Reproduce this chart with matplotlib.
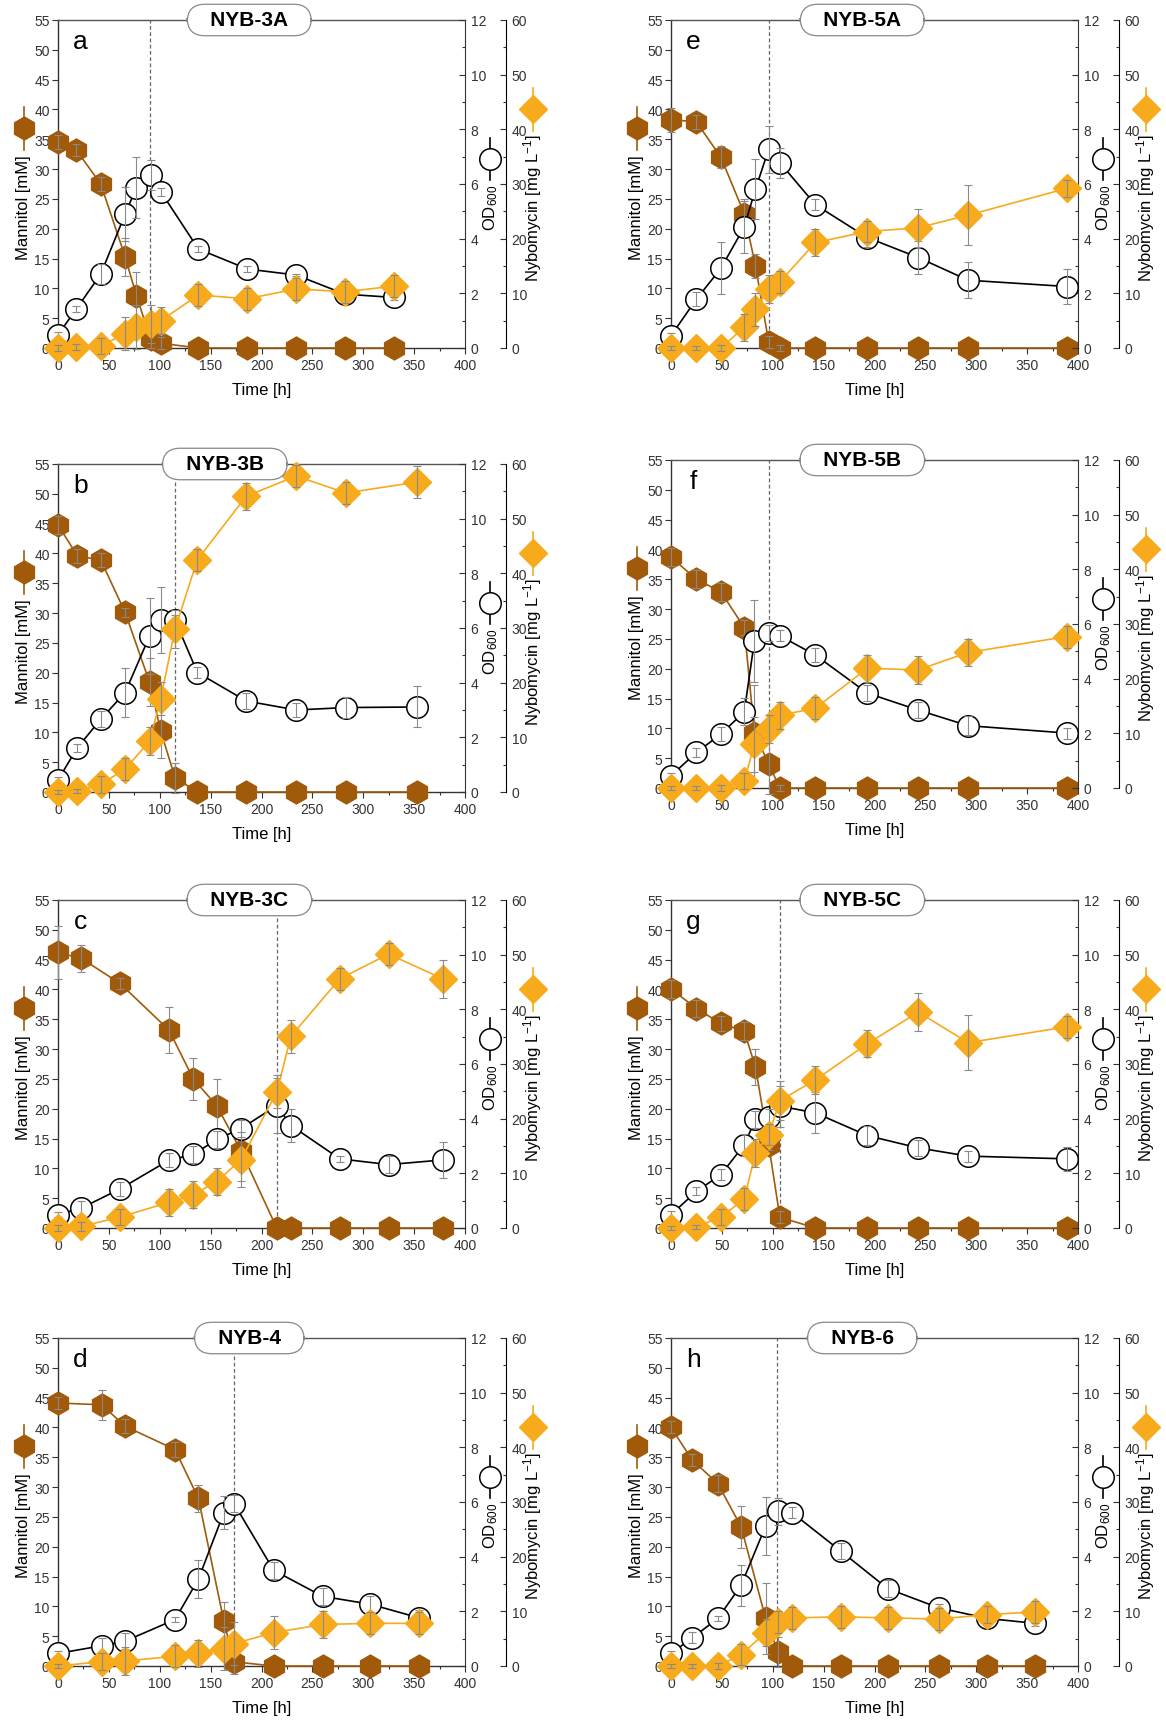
import matplotlib

matplotlib.use("Agg")
import matplotlib.pyplot as plt
import numpy as np
from matplotlib.ticker import MultipleLocator

plt.rcParams["font.family"] = ["Liberation Sans", "DejaVu Sans"]
plt.rcParams["mathtext.default"] = "regular"

# ---- data (time in h, mannitol in mM, OD600, nybomycin in mg/L)
T_A = [0, 18, 42, 66, 77, 91, 101, 138, 186, 234, 282, 330]
MAN_A = [34.5, 33.2, 27.5, 15.3, 8.8, 1.5, 0.8, 0, 0, 0, 0, 0]
MAN_A_ERR = [1.2, 1.0, 1.2, 3.2, 4.0, 1.5, 1.0, 0, 0, 0, 0, 0]
OD_A = [0.48, 1.43, 2.70, 4.90, 5.87, 6.32, 5.72, 3.62, 2.89, 2.67, 1.97, 1.85]
OD_A_ERR = [0.1, 0.12, 0.36, 1.0, 1.1, 0.55, 0.15, 0.12, 0.12, 0.05, 0.05, 0.1]
NYB_A = [0, 0.2, 0.4, 2.6, 3.8, 4.4, 5.0, 9.7, 9.0, 10.8, 10.3, 11.3]
NYB_A_ERR = [0.5, 0.5, 1.5, 3.0, 4.0, 3.5, 2.5, 2.0, 2.0, 2.0, 2.0, 2.0]

T_B = [0, 19, 42, 66, 90, 101, 115, 137, 185, 234, 283, 353]
MAN_B = [44.8, 39.6, 38.9, 30.1, 18.4, 10.2, 2.4, 0, 0, 0, 0, 0]
MAN_B_ERR = [1.5, 1.2, 1.2, 0.8, 4.0, 4.5, 2.5, 0, 0, 0, 0, 0]
OD_B = [0.44, 1.62, 2.66, 3.64, 5.71, 6.29, 6.29, 4.37, 3.33, 3.00, 3.09, 3.11]
OD_B_ERR = [0.1, 0.15, 0.3, 0.9, 1.4, 1.2, 0.2, 0.2, 0.3, 0.25, 0.4, 0.75]
NYB_B = [0, 0.2, 1.4, 4.2, 9.3, 17.1, 29.8, 42.5, 54.1, 57.8, 54.7, 56.7]
NYB_B_ERR = [0.3, 0.3, 1.5, 2.0, 2.5, 3.0, 3.5, 2.0, 2.5, 2.0, 2.0, 3.0]

T_C = [0, 23, 61, 109, 133, 156, 180, 215, 229, 277, 325, 378]
MAN_C = [46.2, 45.2, 41.0, 33.2, 25.0, 20.5, 12.9, 0, 0, 0, 0, 0]
MAN_C_ERR = [4.5, 2.3, 1.0, 3.8, 3.5, 4.5, 5.0, 0, 0, 0, 0, 0]
OD_C = [0.49, 0.73, 1.43, 2.48, 2.69, 3.24, 3.64, 4.48, 3.75, 2.53, 2.32, 2.49]
OD_C_ERR = [0.1, 0.25, 0.25, 0.25, 0.3, 0.3, 0.3, 1.0, 0.6, 0.1, 0.3, 0.65]
NYB_C = [0, 0.3, 2.0, 4.7, 6.1, 8.5, 12.5, 24.9, 35.1, 45.6, 50.1, 45.6]
NYB_C_ERR = [0.5, 0.8, 1.5, 2.5, 2.5, 2.5, 5.0, 3.0, 3.0, 2.0, 2.0, 3.5]

T_D = [0, 43, 66, 115, 138, 163, 173, 212, 260, 307, 355]
MAN_D = [44.1, 43.8, 40.2, 36.3, 28.1, 7.5, 0.7, 0, 0, 0, 0]
MAN_D_ERR = [1.0, 2.5, 1.2, 1.2, 2.3, 3.2, 2.0, 0, 0, 0, 0]
OD_D = [0.46, 0.74, 0.91, 1.70, 3.18, 5.61, 5.94, 3.50, 2.55, 2.26, 1.76]
OD_D_ERR = [0.1, 0.3, 0.3, 0.1, 0.7, 0.6, 0.3, 0.3, 0.3, 0.3, 0.3]
NYB_D = [0, 0.8, 0.9, 1.8, 2.3, 3.2, 4.1, 6.1, 7.6, 7.8, 7.8]
NYB_D_ERR = [0.3, 1.5, 2.5, 2.0, 2.5, 4.0, 4.0, 3.0, 2.5, 2.0, 2.0]

T_E = [0, 25, 49, 72, 83, 96, 107, 142, 193, 243, 292, 389]
MAN_E = [38.3, 37.9, 32.0, 22.5, 13.8, 1.0, 0, 0, 0, 0, 0, 0]
MAN_E_ERR = [2.0, 1.2, 1.8, 2.5, 2.0, 1.0, 0.5, 0, 0, 0, 0, 0]
OD_E = [0.45, 1.79, 2.91, 4.43, 5.81, 7.27, 6.78, 5.24, 4.04, 3.31, 2.48, 2.25]
OD_E_ERR = [0.1, 0.25, 0.95, 0.95, 1.1, 0.85, 0.55, 0.2, 0.35, 0.6, 0.65, 0.65]
NYB_E = [0, 0, 0, 3.8, 7.1, 10.8, 12.1, 19.3, 21.3, 22.0, 24.3, 29.2]
NYB_E_ERR = [0.3, 0.3, 0.5, 2.5, 3.0, 2.5, 2.0, 2.5, 2.0, 3.5, 5.5, 1.5]

T_F = [0, 25, 49, 72, 82, 96, 107, 142, 193, 243, 292, 389]
MAN_F = [38.7, 35.0, 32.9, 26.9, 9.3, 4.0, 0, 0, 0, 0, 0, 0]
MAN_F_ERR = [1.5, 1.5, 1.5, 1.2, 8.0, 5.0, 0.5, 0, 0, 0, 0, 0]
OD_F = [0.45, 1.30, 1.97, 2.79, 5.38, 5.66, 5.57, 4.86, 3.47, 2.85, 2.28, 2.01]
OD_F_ERR = [0.1, 0.15, 0.25, 0.5, 1.5, 0.3, 0.2, 0.25, 0.3, 0.3, 0.35, 0.2]
NYB_F = [0, 0, 0, 1.3, 8.0, 10.8, 13.3, 14.6, 21.9, 21.6, 24.8, 27.7]
NYB_F_ERR = [0.3, 0.3, 0.5, 1.5, 5.0, 2.5, 2.5, 2.0, 2.5, 2.5, 2.5, 2.0]

T_G = [0, 25, 49, 72, 83, 96, 107, 142, 193, 243, 292, 389]
MAN_G = [40.1, 36.8, 34.3, 33.0, 27.0, 14.0, 1.8, 0, 0, 0, 0, 0]
MAN_G_ERR = [1.5, 1.5, 1.2, 1.5, 3.0, 1.0, 1.0, 0, 0, 0, 0, 0]
OD_G = [0.49, 1.34, 1.95, 3.05, 3.97, 4.07, 4.46, 4.21, 3.38, 2.93, 2.63, 2.53]
OD_G_ERR = [0.15, 0.15, 0.2, 0.4, 0.3, 0.3, 0.75, 0.75, 0.35, 0.3, 0.2, 0.45]
NYB_G = [0, 0.2, 2.0, 5.3, 13.7, 17.1, 23.3, 27.1, 33.7, 39.5, 33.9, 36.8]
NYB_G_ERR = [0.3, 0.3, 1.5, 2.0, 2.5, 2.0, 3.5, 2.5, 2.5, 3.5, 5.0, 2.0]

T_H = [0, 21, 46, 69, 93, 105, 119, 167, 213, 263, 311, 358]
MAN_H = [40.0, 34.5, 30.6, 23.3, 8.0, 2.4, 0, 0, 0, 0, 0, 0]
MAN_H_ERR = [1.0, 1.0, 1.5, 3.5, 6.0, 2.5, 0, 0, 0, 0, 0, 0]
OD_H = [0.46, 1.03, 1.74, 2.96, 5.12, 5.66, 5.61, 4.20, 2.83, 2.13, 1.74, 1.56]
OD_H_ERR = [0.1, 0.2, 0.1, 0.75, 1.05, 0.5, 0.2, 0.3, 0.3, 0.15, 0.1, 0.1]
NYB_H = [0, 0, 0, 2.1, 6.1, 8.1, 8.8, 9.0, 8.8, 8.6, 9.4, 9.9]
NYB_H_ERR = [0.3, 0.3, 0.5, 2.0, 2.5, 2.0, 2.0, 2.0, 2.0, 2.0, 1.5, 2.0]

TITLES = ["NYB-3A", "NYB-3B", "NYB-3C", "NYB-4", "NYB-5A", "NYB-5B", "NYB-5C", "NYB-6"]
LETTERS = ["a", "b", "c", "d", "e", "f", "g", "h"]
MARK_TIME = [90, 115, 215, 173, 96, 96, 107, 104]  # dashed vertical line

SERIES = [
    (T_A, MAN_A, MAN_A_ERR, OD_A, OD_A_ERR, NYB_A, NYB_A_ERR),
    (T_B, MAN_B, MAN_B_ERR, OD_B, OD_B_ERR, NYB_B, NYB_B_ERR),
    (T_C, MAN_C, MAN_C_ERR, OD_C, OD_C_ERR, NYB_C, NYB_C_ERR),
    (T_D, MAN_D, MAN_D_ERR, OD_D, OD_D_ERR, NYB_D, NYB_D_ERR),
    (T_E, MAN_E, MAN_E_ERR, OD_E, OD_E_ERR, NYB_E, NYB_E_ERR),
    (T_F, MAN_F, MAN_F_ERR, OD_F, OD_F_ERR, NYB_F, NYB_F_ERR),
    (T_G, MAN_G, MAN_G_ERR, OD_G, OD_G_ERR, NYB_G, NYB_G_ERR),
    (T_H, MAN_H, MAN_H_ERR, OD_H, OD_H_ERR, NYB_H, NYB_H_ERR),
]

# ---- layout (pixels in a 1166 x 1724 canvas)
W, H = 1166, 1724
AX_W, AX_H = 407, 328
LEFTS = [58, 58, 58, 58, 671, 671, 671, 671]
TOPS = [21, 465, 901, 1339, 21, 461, 901, 1339]
TITLE_X = [0.47, 0.41, 0.47, 0.47, 0.47, 0.47, 0.47, 0.47]

BROWN = "#A05A0A"
ORANGE = "#F6AA1C"
SPINE = "#333333"
ERR = "#8a8a8a"
MS_HEX, MS_CIRC, MS_DIA = 16.5, 15.5, 14


def errbars(ax, t, y, e, z):
    t, y, e = np.asarray(t), np.asarray(y), np.asarray(e)
    m = e > 0
    eb = ax.errorbar(t[m], y[m], yerr=e[m], fmt="none", ecolor=ERR, elinewidth=0.8,
                     capsize=3, capthick=0.8, zorder=z)
    for art in eb.lines[1] + eb.lines[2]:
        art.set_clip_on(False)


def axis_key(ax, x, y, **style):
    d = 0.065
    ax.plot([x, x], [y - d, y + d], transform=ax.transAxes, clip_on=False,
            color=style["mec"], lw=1.2, zorder=1)
    ax.plot([x], [y], transform=ax.transAxes, clip_on=False, ls="none", zorder=2, **style)


fig = plt.figure(figsize=(W / 100, H / 100), dpi=100)

for i, (t, man, man_e, od, od_e, nyb, nyb_e) in enumerate(SERIES):
    rect = [LEFTS[i] / W, 1 - (TOPS[i] + AX_H) / H, AX_W / W, AX_H / H]
    ax = fig.add_axes(rect)
    ax_od = ax.twinx()
    ax_ny = ax.twinx()

    # host axis: mannitol
    ax.set_xlim(0, 400)
    ax.set_ylim(0, 55)
    ax.xaxis.set_major_locator(MultipleLocator(50))
    ax.xaxis.set_minor_locator(MultipleLocator(25))
    ax.yaxis.set_major_locator(MultipleLocator(5))
    ax.tick_params(axis="both", which="both", direction="out", colors=SPINE,
                   labelsize=10, length=4, width=0.8)
    ax.tick_params(axis="x", which="minor", length=2.5)
    ax.tick_params(axis="y", pad=2)
    ax.spines["right"].set_visible(False)
    for s in ("left", "bottom", "top"):
        ax.spines[s].set_color(SPINE)
        ax.spines[s].set_linewidth(1.0)
    ax.spines["top"].set_color("#555555")
    ax.set_xlabel("Time [h]", fontsize=12, labelpad=7)
    ax.axvline(MARK_TIME[i], color="#666666", ls=(0, (3, 2)), lw=0.9, zorder=0)

    ax.plot(t, man, color=BROWN, lw=1.2, marker="h", ms=MS_HEX, mfc=BROWN, mec=BROWN,
            clip_on=False, zorder=3)
    errbars(ax, t, man, man_e, 4)

    # OD600 axis
    ax_od.set_ylim(0, 12)
    ax_od.yaxis.set_major_locator(MultipleLocator(2))
    ax_od.yaxis.set_minor_locator(MultipleLocator(1))
    ax_od.tick_params(axis="y", which="both", direction="in", colors=SPINE,
                      labelsize=10, length=4, width=0.8, pad=4)
    ax_od.tick_params(axis="y", which="minor", length=2.5)
    for s in ("left", "bottom", "top"):
        ax_od.spines[s].set_visible(False)
    ax_od.spines["right"].set_color(SPINE)
    ax_od.plot(t, od, color="black", lw=1.2, marker="o", ms=MS_CIRC, mfc="white",
               mec="black", mew=1.1, clip_on=False, zorder=3)
    errbars(ax_od, t, od, od_e, 4)

    # nybomycin axis
    ax_ny.spines["right"].set_position(("axes", 1 + 41 / AX_W))
    ax_ny.set_ylim(0, 60)
    ax_ny.yaxis.set_major_locator(MultipleLocator(10))
    ax_ny.yaxis.set_minor_locator(MultipleLocator(5))
    ax_ny.tick_params(axis="y", which="both", direction="in", colors=SPINE,
                      labelsize=10, length=4, width=0.8, pad=4)
    ax_ny.tick_params(axis="y", which="minor", length=2.5)
    for s in ("left", "bottom", "top"):
        ax_ny.spines[s].set_visible(False)
    ax_ny.spines["right"].set_color("black")
    ax_ny.plot(t, nyb, color=ORANGE, lw=1.2, marker="D", ms=MS_DIA, mfc=ORANGE,
               mec=ORANGE, clip_on=False, zorder=3)
    errbars(ax_ny, t, nyb, nyb_e, 4)

    # axis labels with their keys
    ax.text(-0.085, 0.43, "Mannitol [mM]", transform=ax.transAxes, rotation=90,
            ha="center", va="center", fontsize=12)
    axis_key(ax, -0.083, 0.67, marker="h", ms=MS_HEX, mfc=BROWN, mec=BROWN)
    ax_ny.text(1.062, 0.43, "OD$_{600}$", transform=ax.transAxes, rotation=90,
               ha="center", va="center", fontsize=12)
    axis_key(ax_ny, 1.062, 0.576, marker="o", ms=MS_CIRC, mfc="white", mec="black", mew=1.1)
    ax_ny.text(1.167, 0.43, "Nybomycin [mg L$^{-1}$]", transform=ax.transAxes,
               rotation=90, ha="center", va="center", fontsize=12)
    axis_key(ax_ny, 1.167, 0.728, marker="D", ms=MS_DIA, mfc=ORANGE, mec=ORANGE)

    # panel letter and strain box
    ax_ny.text(0.055, 0.935, LETTERS[i], transform=ax.transAxes, ha="center",
               va="center", fontsize=19)
    ax_ny.text(TITLE_X[i], 1.0, "   " + TITLES[i] + "   ", transform=ax.transAxes,
               ha="center", va="center", fontsize=15, fontweight="bold", zorder=10,
               bbox=dict(boxstyle="round,pad=0.3,rounding_size=0.85", fc="white",
                         ec="#888888", lw=0.9))

fig.savefig("out.png", dpi=100)
